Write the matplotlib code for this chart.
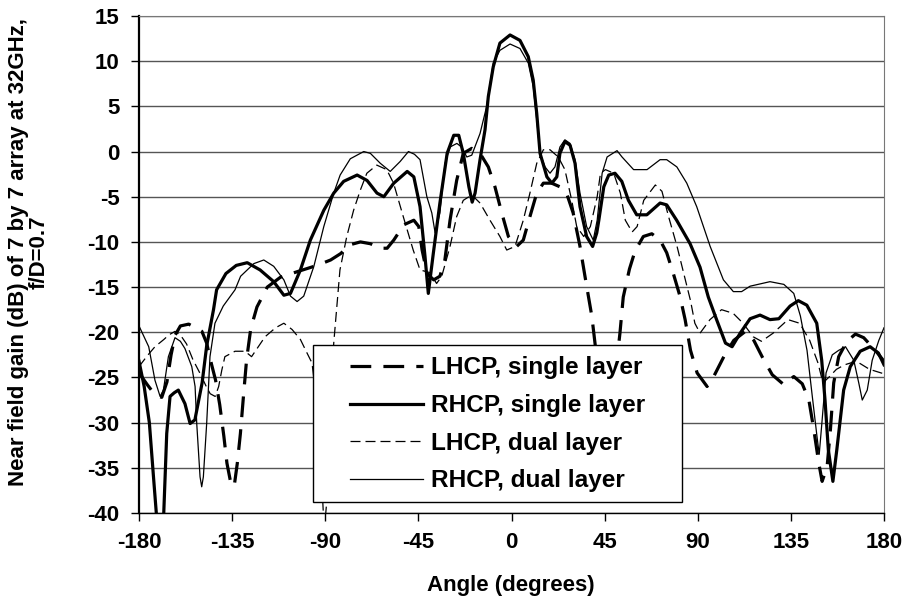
import matplotlib.pyplot as plt
from matplotlib.patches import Rectangle

# near field gain vs angle
lhcp_single_x = [-180, -176, -172, -169, -166.5, -164.5, -162.5, -160, -156, -152.5,
                 -149.6, -147.3, -145, -143, -141, -139, -137.5, -135.8, -134.8, -133.8,
                 -132.5, -131, -129.5, -128, -126, -123, -120.5, -118, -111.6, -103.6,
                 -94, -87.4, -82.6, -77.8, -73, -68.2, -63.4, -60.1, -56.9, -52,
                 -47.2, -44.8, -43.2, -40.8, -37.6, -34.6, -32.2, -29.7, -26.5, -23.3,
                 -19.2, -15.2, -11.2, -8, -4.7, -1.5, 2.5, 5.7, 8.9, 12.2,
                 15.4, 19.4, 23.4, 26.6, 29.8, 33.1, 35.5, 38.8, 40.5, 43,
                 46, 49, 51, 52.4, 54, 57, 59.7, 63.7, 67.8, 71.8,
                 75, 78.2, 81.4, 83.9, 86.5, 89.7, 94.5, 97.7, 102.6, 107.4,
                 113, 117.1, 121.1, 126, 131.6, 136.4, 140.5, 143.7, 146.1, 148.5,
                 150.1, 152.5, 154.1, 155.7, 158.1, 162.1, 166.2, 170.2, 175.8, 180]
lhcp_single_y = [-24.5, -25.8, -27.0, -27.2, -25.5, -22.5, -20.3, -19.3, -19.1, -19.5,
                 -19.9, -21.2, -23.5, -25.3, -28.0, -31.5, -34.5, -36.5, -37.1, -36.7,
                 -34.5, -31.2, -27.0, -23.0, -19.6, -17.2, -16.1, -15.0, -13.9, -13.3,
                 -12.6, -12.0, -11.3, -10.3, -10.0, -10.2, -10.7, -10.7, -9.8, -8.1,
                 -7.6, -8.3, -10.9, -13.5, -14.2, -13.8, -12.0, -7.6, -3.2, -0.2,
                 0.35, -0.2, -1.7, -3.9, -6.8, -9.4, -10.5, -9.8, -7.2, -4.6,
                 -3.5, -3.5, -3.9, -4.6, -6.8, -10.5, -13.8, -18.2, -21.5, -26.0,
                 -29.0, -27.0, -23.0, -20.1, -16.1, -13.0, -11.0, -9.4, -9.1, -9.8,
                 -11.2, -13.5, -16.0, -18.6, -22.0, -24.5, -26.0, -24.9, -22.7, -20.9,
                 -19.9, -20.9, -22.7, -24.7, -25.8, -24.9, -25.7, -27.5, -30.8, -34.5,
                 -36.5, -34.9, -30.8, -25.6, -22.7, -21.0, -20.2, -20.6, -22.0, -23.2]

rhcp_single_x = [-180, -177.5, -175, -173, -171.3, -168.2, -166.6, -165, -163, -161,
                 -157.8, -155.3, -153, -149.5, -147.3, -144, -142.5, -138, -133, -127.7,
                 -121.5, -114.9, -110, -106.8, -102, -97.2, -90.7, -85.9, -81.1, -74.6,
                 -69.8, -65, -61.7, -56.9, -50.4, -47.2, -44.2, -41.8, -40.2, -37.8,
                 -34.6, -31.1, -27.9, -25.5, -23.3, -20.6, -19, -17.6, -15.2, -12.8,
                 -11.2, -8.8, -5.6, -0.7, 4.1, 8.1, 10.5, 12.2, 13.8, 17.1,
                 19.5, 21.9, 23.4, 25.8, 28.3, 30.7, 33.1, 36.3, 39.2, 41.2,
                 42.2, 44.6, 47, 50, 53.3, 56.5, 60.5, 65.4, 71.8, 75,
                 79.8, 86.3, 91.1, 95.1, 99.1, 103.4, 106.6, 110.5, 115.3, 120.1,
                 124.9, 129.2, 134.6, 138.6, 142.7, 147.5, 149.9, 151.5, 153.1, 155.3,
                 157.2, 158.1, 160.5, 163.7, 168.5, 173.3, 177.3, 180]
rhcp_single_y = [-23.2, -26.0, -30.0, -36.0, -41.0, -41.0, -31.2, -27.1, -26.7, -26.4,
                 -27.9, -30.1, -29.7, -25.6, -21.5, -17.5, -15.3, -13.5, -12.6, -12.3,
                 -13.1, -14.4, -15.9, -15.7, -13.1, -9.8, -6.5, -4.6, -3.3, -2.6,
                 -3.2, -4.6, -5.0, -3.5, -2.2, -2.8, -6.1, -11.6, -15.7, -11.3,
                 -5.7, -0.2, 1.8, 1.8, -0.2, -3.9, -5.6, -4.6, -0.9, 2.4,
                 6.1, 9.4, 12.0, 12.9, 12.3, 10.5, 7.9, 4.2, -0.2, -2.8,
                 -3.5, -2.8, -0.2, 1.1, 0.7, -1.3, -6.1, -9.4, -10.5, -9.0,
                 -7.6, -3.9, -2.6, -2.4, -3.3, -5.4, -7.0, -7.0, -5.7, -5.9,
                 -7.6, -10.2, -12.8, -16.1, -18.6, -21.2, -21.6, -20.1, -18.5, -18.1,
                 -18.6, -18.5, -17.1, -16.5, -17.0, -19.0, -23.1, -27.5, -33.0, -36.5,
                 -33.0, -31.2, -26.4, -23.8, -22.1, -21.6, -22.3, -23.6]

lhcp_dual_x = [-180, -176, -172.3, -168, -165.6, -162.6, -160, -157, -154, -150.4,
               -147.5, -145.6, -143.2, -141.5, -140, -138.5, -133.6, -128.8, -125.6, -119.1,
               -114, -110, -106, -102, -98.8, -96.4, -94, -92, -90.5, -89,
               -87.5, -85.9, -82.9, -79.6, -76.3, -73.1, -69.9, -65.1, -60.3, -57,
               -52.3, -47.5, -44.2, -39.4, -36.2, -33.7, -29.7, -26.5, -23.3, -19.2,
               -15.2, -10.4, -5.6, -2.3, 1.7, 5.7, 8.9, 12.2, 15.4, 18.6,
               22.6, 25.8, 29.1, 31.5, 34.9, 38.1, 41.4, 43, 45.4, 49.4,
               52.6, 55, 58.3, 60.7, 63.9, 69.5, 72.7, 75.9, 80, 84,
               86.5, 88.6, 91.1, 95.9, 101.5, 107.1, 111.9, 116.8, 120.8, 126.4,
               133.6, 139.2, 144.1, 148.1, 150.5, 153.7, 157, 161, 166.6, 173,
               180]
lhcp_dual_y = [-23.8, -22.6, -21.6, -20.8, -20.3, -19.9, -20.3, -21.3, -23.0, -24.6,
               -26.0, -26.8, -27.1, -26.0, -24.2, -22.7, -22.1, -22.1, -22.7, -20.5,
               -19.5, -19.0, -19.7, -20.8, -22.3, -23.4, -28.0, -35.0, -42.0, -38.0,
               -28.0, -21.2, -13.1, -9.4, -6.5, -4.3, -2.4, -1.5, -2.0, -3.5,
               -7.2, -10.9, -13.1, -13.4, -14.6, -13.8, -10.5, -7.2, -5.4, -4.8,
               -5.7, -7.6, -9.4, -10.9, -10.5, -7.6, -4.6, -1.3, 0.2, 0.2,
               -0.6, -2.0, -5.4, -8.3, -9.4, -8.3, -5.0, -2.4, -2.0, -2.4,
               -4.6, -7.6, -8.9, -8.3, -5.4, -3.7, -4.4, -7.2, -10.5, -14.2,
               -16.5, -19.0, -20.1, -18.6, -17.5, -17.9, -19.0, -20.5, -21.0, -20.1,
               -18.6, -19.0, -20.9, -23.4, -25.6, -24.9, -24.1, -23.6, -23.2, -24.1,
               -24.6]

rhcp_dual_x = [-180, -175.3, -172.3, -169.8, -168.2, -165.8, -162.6, -160, -157.8, -154.5,
               -152.9, -152.1, -150.5, -149.7, -148.9, -147.3, -145.7, -143.3, -139.3, -133.6,
               -130.9, -124.5, -119.7, -114.9, -110, -106.8, -103.6, -100.4, -95.5, -90.7,
               -85.9, -82.8, -77.9, -71.4, -68.2, -63.4, -58.6, -53.8, -49.8, -46.9,
               -44.2, -40.9, -38.5, -36.9, -34.6, -32.1, -29.7, -26.4, -24.1, -21.6,
               -19.2, -15.2, -12, -8.8, -5.6, -0.7, 4.1, 8.1, 10.5, 12.2,
               13.8, 16.2, 18.6, 21, 23.4, 25.8, 28.3, 30.7, 33.1, 36.3,
               39.5, 41.4, 43.8, 46.2, 51, 53.4, 59, 65.5, 71.8, 75,
               79.9, 84.7, 89.5, 96, 102.4, 107.2, 111.2, 115.3, 124.9, 131.6,
               136.4, 139.6, 142.8, 145.2, 147.6, 148.7, 150, 152, 155, 158.1,
               161.4, 165.4, 167.8, 169.5, 171.9, 174.3, 177.5, 180]
rhcp_dual_y = [-19.3, -21.6, -25.3, -27.1, -26.4, -22.7, -20.6, -21.0, -21.8, -23.8,
               -26.0, -30.1, -36.0, -37.1, -36.0, -30.1, -22.7, -19.0, -17.1, -15.3,
               -13.8, -12.4, -12.0, -12.7, -14.2, -16.0, -16.6, -16.0, -12.7, -8.3,
               -4.6, -2.6, -0.8, 0.0, -0.2, -1.3, -2.2, -1.1, 0.0, -0.3,
               -0.9, -5.0, -6.8, -9.0, -6.8, -1.3, 0.5, 0.9, 0.5, -0.6,
               -0.4, 2.0, 5.0, 9.8, 11.2, 11.9, 11.4, 9.8, 7.2, 3.5,
               -0.2, -1.7, -2.4, -1.7, 0.5, 1.3, 0.9, -0.9, -4.6, -8.3,
               -9.8, -7.6, -2.4, -0.6, 0.1, -0.6, -2.0, -2.0, -0.9, -0.9,
               -1.7, -3.5, -6.1, -10.5, -14.2, -15.5, -15.5, -14.9, -14.4, -14.7,
               -15.7, -18.2, -22.0, -26.8, -31.5, -33.5, -30.0, -24.5, -22.5, -22.0,
               -21.6, -23.1, -25.6, -27.5, -26.4, -23.1, -20.9, -19.5]

x_ticks = [-180, -135, -90, -45, 0, 45, 90, 135, 180]
y_ticks = [-40, -35, -30, -25, -20, -15, -10, -5, 0, 5, 10, 15]

plt.rcParams['font.family'] = ['Liberation Sans', 'DejaVu Sans']
plt.rcParams['font.weight'] = 'bold'
plt.rcParams['axes.unicode_minus'] = False

fig = plt.figure(figsize=(9.11, 6.13), dpi=100)
ax = fig.add_axes([139/911, 1 - 513/613, 745/911, 497/613])

ax.plot(lhcp_single_x, lhcp_single_y, color="black", lw=2.3, dashes=(6.5, 3.8),
        solid_joinstyle="round", label="LHCP, single layer")
ax.plot(rhcp_single_x, rhcp_single_y, color="black", lw=2.3, solid_joinstyle="round",
        label="RHCP, single layer")
ax.plot(lhcp_dual_x, lhcp_dual_y, color="black", lw=0.9, dashes=(8, 4),
        label="LHCP, dual layer")
ax.plot(rhcp_dual_x, rhcp_dual_y, color="black", lw=0.9, solid_joinstyle="round",
        label="RHCP, dual layer")

ax.set_xlim(-180, 180)
ax.set_ylim(-40, 15)
ax.set_xticks(x_ticks)
ax.set_yticks(y_ticks)
ax.yaxis.grid(True, color="#555555", lw=1)
ax.set_axisbelow(True)
ax.tick_params(direction="out", length=6, width=1, pad=8, labelsize=16)

for side in ["top", "right"]:
    ax.spines[side].set_color("#777777")
ax.spines["left"].set_linewidth(1.6)
ax.spines["bottom"].set_linewidth(1.0)

# legend box (Excel style, wide inner margins)
box = Rectangle((0.2336, 0.0221), 0.4953, 0.3159, transform=ax.transAxes,
                facecolor="white", edgecolor="black", lw=1, zorder=4)
ax.add_patch(box)
leg = ax.legend(loc="upper left", bbox_to_anchor=(0.2832, 0.315), frameon=False,
                handlelength=3.0, handletextpad=0.3, labelspacing=0.6, borderpad=0,
                borderaxespad=0, prop={"size": 17.6, "weight": "bold"})
leg.set_zorder(5)

fig.text(511/911, 1 - 585/613, "Angle (degrees)", ha="center", va="center", fontsize=16)
fig.text(29/911, 1 - 252/613, "Near field gain (dB) of 7 by 7 array at 32GHz,\nf/D=0.7",
         rotation=90, ha="center", va="center", multialignment="center",
         fontsize=16, linespacing=1.0)

fig.savefig("out.png", dpi=100)
